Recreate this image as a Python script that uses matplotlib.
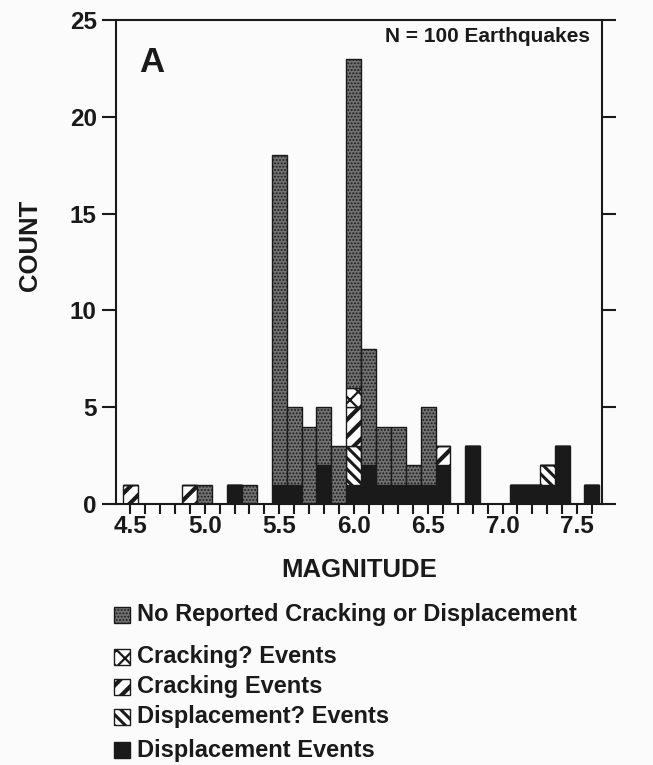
import matplotlib

matplotlib.use('Agg')

import matplotlib.pyplot as plt
from matplotlib.patches import Rectangle
from matplotlib.ticker import MultipleLocator

# magnitude bins (0.1 wide) and counts per category
mags = [4.5, 4.9, 5.0, 5.2, 5.3, 5.5, 5.6, 5.7, 5.8, 5.9, 6.0, 6.1,
        6.2, 6.3, 6.4, 6.5, 6.6, 6.8, 7.1, 7.2, 7.3, 7.4, 7.6]
displacement = [0, 0, 0, 1, 0, 1, 1, 0, 2, 0, 1, 2, 1, 1, 1, 1, 2, 3, 1, 1, 1, 3, 1]
displacement_q = [0, 0, 0, 0, 0, 0, 0, 0, 0, 0, 2, 0, 0, 0, 0, 0, 0, 0, 0, 0, 1, 0, 0]
cracking = [1, 1, 0, 0, 0, 0, 0, 0, 0, 0, 2, 0, 0, 0, 0, 0, 1, 0, 0, 0, 0, 0, 0]
cracking_q = [0, 0, 0, 0, 0, 0, 0, 0, 0, 0, 1, 0, 0, 0, 0, 0, 0, 0, 0, 0, 0, 0, 0]
no_reported = [0, 0, 1, 0, 1, 17, 4, 4, 3, 3, 17, 6, 3, 3, 1, 4, 0, 0, 0, 0, 0, 0, 0]

x_ticks = [4.5, 5.0, 5.5, 6.0, 6.5, 7.0, 7.5]
y_ticks = [0, 5, 10, 15, 20, 25]

INK = '#1a1a1a'
BG = '#fbfbfb'
FONT = 'Liberation Sans'

plt.rcParams['font.family'] = [FONT, 'DejaVu Sans']
plt.rcParams['font.weight'] = 'bold'

# style per category: (label, facecolor, hatch, hatch linewidth)
styles = [
    ('Displacement Events', INK, None, 1.0),
    ('Displacement? Events', 'white', '\\\\\\', 2.2),
    ('Cracking Events', 'white', '//', 3.0),
    ('Cracking? Events', 'white', 'xx', 1.6),
    ('No Reported Cracking or Displacement', '#727272', '.....', 0.9),
]
series = [displacement, displacement_q, cracking, cracking_q, no_reported]

fig = plt.figure(figsize=(6.53, 7.65), dpi=100)
fig.patch.set_facecolor(BG)
ax = fig.add_axes([0.178, 0.341, 0.744, 0.633])
ax.set_facecolor(BG)

bottom = [0] * len(mags)
for (label, fc, hatch, hlw), vals in zip(styles, series):
    with plt.rc_context({'hatch.linewidth': hlw, 'hatch.color': INK}):
        ax.bar(mags, vals, width=0.1, bottom=bottom, color=fc, hatch=hatch,
               edgecolor=INK, linewidth=1.0, zorder=2)
    bottom = [b + v for b, v in zip(bottom, vals)]

ax.set_xlim(4.405, 7.668)
ax.set_ylim(0, 25)
ax.set_xticks(x_ticks)
ax.set_xticklabels([f'{t:.1f}' for t in x_ticks])
ax.xaxis.set_minor_locator(MultipleLocator(0.1))
ax.set_yticks(y_ticks)

ax.tick_params(axis='x', which='both', direction='out', length=7, width=1.5,
               colors=INK, labelsize=17.5, pad=1)
ax.tick_params(axis='y', which='both', direction='out', length=10, width=1.5,
               colors=INK, labelsize=17.5, right=True, labelright=False, pad=4)
for lab in ax.get_xticklabels() + ax.get_yticklabels():
    lab.set_fontweight('bold')
for sp in ax.spines.values():
    sp.set_color(INK)
    sp.set_linewidth(1.5)

ax.set_xlabel('MAGNITUDE', fontsize=18.5, fontweight='bold', color=INK, labelpad=14)
fig.text(30 / 653, 1 - 245 / 765, 'COUNT', rotation=90, fontsize=18.5,
         fontweight='bold', color=INK, ha='center', va='center')

ax.text(0.072, 0.912, 'A', transform=ax.transAxes, fontsize=25, fontweight='bold',
        color=INK, ha='center', va='center')
ax.text(0.975, 0.965, 'N = 100 Earthquakes', transform=ax.transAxes, fontsize=15,
        fontweight='bold', color=INK, ha='right', va='center')

# legend drawn by hand, top entry first
leg_y = [615, 657, 687, 717, 750]
for (label, fc, hatch, hlw), yy in zip(styles[::-1], leg_y):
    yf = 1 - yy / 765
    with plt.rc_context({'hatch.linewidth': hlw, 'hatch.color': INK}):
        fig.add_artist(Rectangle((114 / 653, yf - 8 / 765), 16 / 653, 16 / 765,
                                 transform=fig.transFigure, facecolor=fc,
                                 hatch=hatch, edgecolor=INK, linewidth=1.0))
    fig.text(137 / 653, yf, label, fontsize=17, fontweight='bold', color=INK,
             ha='left', va='center')

plt.savefig('out.png', dpi=100, facecolor=fig.get_facecolor())
